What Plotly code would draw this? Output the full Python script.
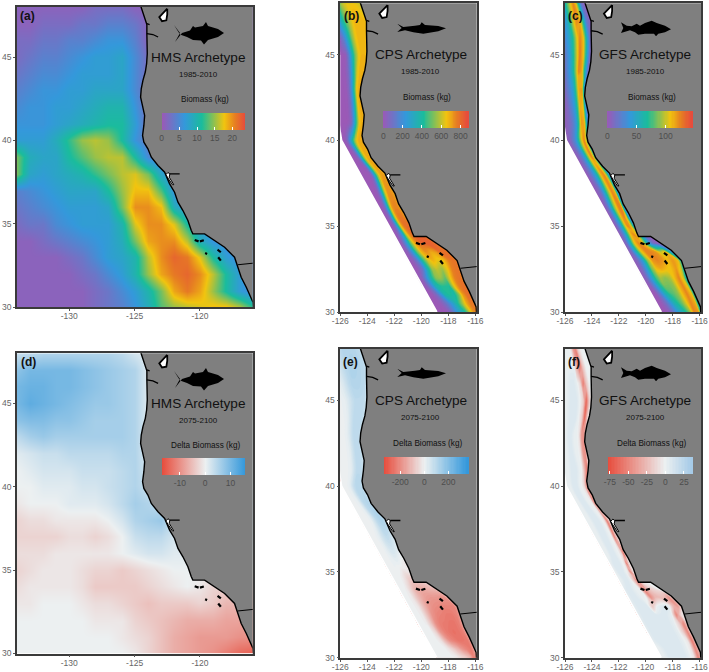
import plotly.graph_objects as go
import numpy as np

W, H = 709, 672
# ---------------- gridded biomass, HMS panels (lon -134..-116, lat 30..48)
HMS_LON = list(range(-134, -115))
HMS_LAT = list(range(30, 49))
HMS_BASE = [
 [1,1,1,1,1,1,2,3,4,6,9,13,15,16,17,18,18,16,12],
 [1,1,1,1,1,1,2,3,5,7,10,14,19,21,19,15,11,7,5],
 [1,1,1,1,1,2,3,5,7,10,15,19,21,22,20,16,11,7,5],
 [1,1,1,1,2,3,5,7,8,10,16,20,22,21,17,11,7,5,5],
 [1,1,2,3,4,5,6,7,9,14,19,20,20,16,9,6,5,5,5],
 [2,3,3,5,6,7,7,7,10,17,20,20,17,11,7,6,5,5,5],
 [3,4,5,6,7,7,7,8,14,20,20,18,9,6,5,5,5,5,5],
 [4,5,6,7,8,8,8,11,15,18,18,13,6,5,5,5,5,5,5],
 [14,8,7,8,9,10,12,14,16,17,14,8,5,4,4,4,4,4,4],
 [14,9,8,8,11,13,15,16,16,11,5,4,4,4,4,4,4,4,4],
 [7,7,7,9,12,15,16,15,11,6,3,3,3,3,3,3,3,3,3],
 [6,6,6,7,8,9,10,11,11,7,2,2,2,2,2,2,2,2,2],
 [5,6,6,7,7,8,9,10,10,6,2,2,2,2,2,2,2,2,2],
 [4,5,6,6,7,7,8,8,8,5,2,2,2,2,2,2,2,2,2],
 [3,4,5,5,6,7,7,7,8,5,2,2,2,2,2,2,2,2,2],
 [2,3,4,4,5,6,7,7,8,5,2,2,2,2,2,2,2,2,2],
 [2,2,3,3,4,4,5,6,6,4,1,1,1,1,1,1,1,1,1],
 [1,1,2,2,2,3,3,4,4,3,1,1,1,1,1,1,1,1,1],
 [1,1,1,1,1,1,2,2,2,1,1,1,1,1,1,1,1,1,1],
]
HMS_DELTA = [
 [0,0,0,0,0,0,0,0,0,-1,-3,-5,-7,-8,-9,-10,-12,-14,-15],
 [0,0,0,0,0,0,0,0,-1,-2,-3,-5,-7,-8,-9,-9,-9,-10,-10],
 [0,0,0,0,0,0,-1,-1,-1,-3,-4,-5,-6,-7,-7,-7,-8,-8,-8],
 [-1,-1,0,0,0,-1,-2,-2,-3,-4,-5,-4,-4,-4,-3,-4,-6,-6,-6],
 [-2,-1,-1,-1,-1,-2,-4,-4,-4,-4,-3,-2,-1,0,-1,-3,-3,-3,-3],
 [-3,-2,-1,-1,-1,-2,-3,-3,-4,-3,-2,-1,0,0,0,0,0,0,0],
 [-2,-2,-2,-1,-1,-1,-1,-1,0,1,2,2,1,1,1,1,1,1,1],
 [-3,-3,-3,-3,-2,-2,-3,-2,0,3,4,4,2,2,2,2,2,2,2],
 [-3,-2,-2,-1,-1,-1,-1,0,2,5,6,7,3,3,3,3,3,3,3],
 [-1,0,0,0,1,1,1,2,4,6,5,3,3,3,3,3,3,3,3],
 [0,0,1,1,1,2,2,3,4,5,3,1,1,1,1,1,1,1,1],
 [0,1,2,2,2,3,3,3,4,5,2,1,1,1,1,1,1,1,1],
 [1,2,3,3,4,4,4,4,5,5,1,1,1,1,1,1,1,1,1],
 [4,6,7,6,6,6,6,6,6,5,1,1,1,1,1,1,1,1,1],
 [8,9,9,8,8,7,6,6,6,5,1,1,1,1,1,1,1,1,1],
 [10,12,11,10,9,8,7,7,6,5,1,1,1,1,1,1,1,1,1],
 [10,11,11,10,10,9,8,7,6,5,1,1,1,1,1,1,1,1,1],
 [8,10,10,10,10,9,8,7,6,5,1,1,1,1,1,1,1,1,1],
 [3,4,5,5,5,5,5,5,4,2,1,1,1,1,1,1,1,1,1],
]
# ---------------- shelf-band grid, CPS and GFS panels: one row per latitude,
# 11 stations from the offshore limit to just behind the shore
BAND_LAT = [48,47,46,45,44,43,42,41,40,39,38,37,36,35.5,35,34.5,34,33.5,33,32.5,32,31.5,31,30.5,30]
BAND_OUTER = [-126.3,-126.3,-126.3,-126.3,-126.3,-126.3,-126.2,-126.1,-125.9,-125.2,-124.5,-123.8,-123.1,-122.75,-122.4,-122.05,-121.7,-121.35,-121.0,-120.65,-120.3,-119.95,-119.55,-119.2,-118.85]
BAND_INNER = [-124.5,-124.0,-123.95,-123.95,-124.1,-124.4,-124.3,-124.2,-124.25,-123.65,-122.5,-121.95,-121.45,-121.1,-120.6,-119.7,-118.7,-117.9,-117.25,-117.0,-116.85,-116.55,-116.25,-116.0,-115.8]
CPS_BASE = [
 [450,500,580,620,640,650,650,650,640,620,600],
 [200,260,400,500,580,640,680,680,680,670,650],
 [0,40,120,240,400,540,640,680,680,680,660],
 [0,0,0,20,150,350,520,640,680,680,650],
 [0,0,0,10,60,200,420,620,690,690,660],
 [0,0,0,0,10,60,200,430,650,700,680],
 [0,0,0,0,10,60,200,430,650,700,680],
 [0,0,0,0,20,80,250,480,660,690,670],
 [0,0,20,100,250,400,560,660,700,700,680],
 [0,0,0,30,120,300,500,650,700,700,670],
 [0,0,0,0,40,250,500,680,720,700,660],
 [0,0,0,30,150,400,620,730,740,720,680],
 [0,0,20,100,300,560,720,760,760,740,700],
 [0,0,30,120,350,600,740,780,780,760,720],
 [0,0,30,150,400,650,760,800,800,780,740],
 [0,10,100,300,600,740,800,830,820,790,760],
 [0,30,200,480,680,780,820,830,830,800,770],
 [0,30,220,500,680,740,700,720,800,800,760],
 [0,20,150,430,620,680,640,660,760,790,760],
 [0,10,100,350,560,600,560,640,760,790,760],
 [0,30,200,400,540,560,500,640,760,790,760],
 [0,20,150,350,420,430,420,640,760,800,770],
 [0,0,60,200,380,420,380,520,720,800,780],
 [0,0,20,80,180,300,420,560,700,780,780],
 [0,0,0,30,120,250,330,430,600,740,770],
]
GFS_BASE = [
 [30,40,70,90,110,125,110,70,25,10,5],
 [20,35,50,75,105,125,115,70,25,10,5],
 [10,25,40,55,75,105,125,110,60,18,5],
 [5,15,30,45,70,100,128,110,60,15,5],
 [5,10,25,40,60,90,125,115,60,15,5],
 [5,5,15,25,35,50,80,115,120,50,10],
 [5,5,10,20,30,45,75,115,110,40,10],
 [5,5,10,15,25,40,75,120,115,50,10],
 [5,5,10,20,30,50,80,105,125,100,30],
 [0,5,10,20,35,55,85,110,125,90,20],
 [0,5,15,30,50,80,115,125,85,30,5],
 [0,5,10,25,50,80,105,125,115,50,10],
 [0,5,15,35,60,90,110,125,125,60,10],
 [0,5,15,35,60,90,115,125,105,50,10],
 [0,5,20,40,70,105,125,115,70,25,5],
 [0,10,30,70,110,125,105,60,20,5,5],
 [0,15,60,110,125,110,60,25,10,5,5],
 [0,15,60,105,125,125,120,100,110,60,10],
 [0,10,40,90,120,125,120,110,120,110,30],
 [0,10,40,85,110,115,110,110,120,100,20],
 [0,10,40,75,95,90,95,110,125,100,25],
 [0,5,30,65,85,85,90,110,125,105,25],
 [0,0,20,50,70,80,90,110,125,110,30],
 [0,0,10,30,55,70,85,105,125,115,30],
 [0,0,5,20,40,55,70,90,125,120,30],
]
CPS_DELTA = [
 [60,80,100,110,110,110,110,110,100,90,60],
 [20,50,80,100,110,120,120,110,100,90,60],
 [0,15,30,60,90,110,110,110,100,90,60],
 [0,0,5,15,40,70,90,90,90,80,50],
 [0,0,0,5,20,60,90,90,90,80,50],
 [0,0,0,0,10,30,70,90,90,80,60],
 [0,0,0,0,5,20,60,90,90,80,60],
 [0,0,0,0,5,20,60,90,90,80,60],
 [0,0,0,5,20,60,90,100,100,90,60],
 [0,0,0,5,15,50,90,100,110,100,60],
 [0,0,0,0,10,50,90,110,120,100,70],
 [0,0,0,5,20,50,70,80,70,50,30],
 [0,0,0,0,10,20,30,30,20,10,0],
 [0,0,0,0,5,5,10,5,-10,-20,-20],
 [0,0,0,0,0,-10,-30,-30,-20,-20,-10],
 [0,0,0,-10,-40,-80,-90,-90,-80,-60,-40],
 [0,0,-10,-60,-120,-140,-140,-130,-120,-110,-60],
 [0,0,-20,-90,-140,-170,-180,-180,-190,-190,-100],
 [0,0,-20,-100,-170,-200,-210,-220,-220,-220,-120],
 [0,0,-15,-100,-190,-220,-230,-240,-240,-220,-130],
 [0,0,-10,-90,-200,-235,-240,-250,-250,-230,-130],
 [0,0,0,-60,-180,-230,-250,-260,-250,-230,-130],
 [0,0,0,-30,-120,-200,-230,-250,-250,-240,-140],
 [0,0,0,0,-30,-70,-120,-180,-220,-240,-150],
 [0,0,0,0,0,-10,-40,-60,-100,-220,-160],
]
GFS_DELTA = [
 [3,3,3,3,-5,-40,-50,-15,-2,0,0],
 [3,3,3,3,3,-30,-60,-20,0,0,0],
 [3,3,3,8,8,3,-10,-55,-20,0,0],
 [3,3,3,8,8,8,0,-15,-65,-15,0],
 [3,3,3,8,8,8,0,-15,-65,-15,0],
 [3,3,3,8,8,3,3,-5,-40,-45,-5],
 [3,3,3,8,8,3,3,-5,-40,-45,-5],
 [3,3,3,8,8,8,3,0,-25,-55,-10],
 [3,3,3,8,8,8,3,0,-10,-40,-40],
 [3,3,3,8,8,8,3,3,-5,-45,-30],
 [3,3,3,8,8,8,3,-5,-55,-15,0],
 [3,3,3,8,8,8,3,0,-50,-20,0],
 [3,3,3,8,8,8,3,0,-10,-60,-5],
 [3,3,8,8,8,8,3,-5,-55,-15,0],
 [3,3,8,8,8,3,-5,-55,-15,0,0],
 [3,3,8,8,3,-20,-55,-5,0,0,0],
 [3,8,8,3,3,-50,-25,-15,-10,0,0],
 [3,8,8,3,0,-45,-25,-25,-25,-45,-5],
 [3,8,8,8,-20,3,8,8,-25,-40,-3],
 [3,8,8,8,8,8,8,3,-50,-10,0],
 [3,8,8,8,8,8,8,3,-15,-50,-3],
 [3,8,8,8,8,8,8,3,-15,-50,-3],
 [3,8,8,8,8,8,8,3,-5,-55,-15],
 [3,3,8,8,8,8,8,3,-5,-50,-20],
 [3,3,8,8,8,8,8,3,-5,-50,-25],
]
# ---------------- geography
COAST_LON = [-124.59,-124.36,-124.18,-124.06,-124.06,-124.03,-124.03,-124.08,-124.18,-124.36,-124.49,-124.54,-124.39,-124.23,-124.29,-124.39,-124.29,-123.98,-123.72,-123.21,-122.70,-122.32,-121.94,-121.68,-121.30,-120.92,-120.66,-120.54,-119.64,-118.88,-118.11,-117.35,-117.14,-116.84,-116.45,-116.2,-115.94,-115.9]
COAST_LAT = [48.2,47.6,47.2,46.95,46.4,45.8,45.2,44.6,44.1,43.6,43.1,42.6,42.0,41.5,40.9,40.3,39.9,39.5,39.0,38.5,38.1,37.4,36.9,36.3,35.8,35.2,34.6,34.4,34.4,34.0,33.6,33.0,32.5,31.8,31.2,30.7,30.3,29.8]
BORDER_LON = [-117.1,-115.5]
BORDER_LAT = [32.55,32.68]
PUGET_LON = [-122.5,-123.11,-122.9,-122.57,-122.5,-122.5]
PUGET_LAT = [47.9,47.4,47.15,47.2,47.55,47.9]
SFBAY_LON = [-122.6,-122.45,-122.3,-122.35,-122.0,-122.1,-122.45,-122.6]
SFBAY_LAT = [37.95,38.08,38.0,37.8,37.35,37.35,37.75,37.95]
INLET_LON = [-124.06,-123.6,-123.2,None,-124.06,-123.85,None,-122.3,-121.55]
INLET_LAT = [46.4,46.35,46.2,None,47.0,46.95,None,38.0,38.0]
ISLAND_LON = [-120.4,-120.1,None,-120.0,-119.7,None,-119.6,-119.45,None,-118.65,-118.4,None,-118.6,-118.4]
ISLAND_LAT = [34.03,33.95,None,33.95,34.02,None,33.25,33.2,None,33.45,33.3,None,33.0,32.8]
# ---------------- fish outlines in pixels of the sheet
TUNA = [(174,25),(180,33),(175,42),(182,33),(190,30.5),(193,26),(195,27.5),(203,26),(206,22),(208,26),(218,29),(224,33),(218,37),(208,40),(204,44.5),(201,40.5),(193,40),(187,37),(180,34.5)]
SARDINE = [(397.3,23.7),(403.3,27),(415,25.7),(420,25),(421.7,22.3),(425,25),(438.3,26),(446,28.3),(438.3,31.3),(423.3,33.7),(413.3,32.3),(405,30.3),(397.3,32),(401.7,28)]
ROCKFISH = [(621,22.3),(626.7,25.7),(631.7,26.3),(636.7,23.7),(640,25.7),(645,23),(651.7,20.7),(656.7,23),(665,25.7),(671,29.3),(665,32.3),(658.3,33.7),(656,36.3),(654,33.7),(645,33.7),(638.3,34.7),(635,32.3),(630,30.3),(621,33),(623.3,28)]
FISH_SHIFT_Y = {"tuna": 346, "sardine": 345, "rockfish": 345}

RAINBOW = [[0,"#9B59B6"],[0.27,"#3498DB"],[0.48,"#1ABC9C"],[0.75,"#F1C40F"],[0.88,"#E67E22"],[1,"#E74C3C"]]
def diverging(lo, hi, right="#3498DB"):
    return [[0,"#E74C3C"],[-lo/(hi-lo),"#ECF0F1"],[1,right]]

PANELS = [
 dict(k="a",box=(17,252.7,7,307.3),xr=[-134,-115.96],xt=[-130,-125,-120],title="HMS Archetype",tc=(198.3,57.3),period="1985-2010",pc=(198.3,74),cbt="Biomass (kg)",cc=(205,99),lab=(27.7,15.7),
      cb=(161.7,245,112.7,129.3),rng=(0,23.5),ticks=[0,5,10,15,20],scale=RAINBOW,hz=HMS_BASE),
 dict(k="b",box=(340.3,476.7,3.3,312),xr=[-126,-115.9],xt=list(range(-126,-115,2)),title="CPS Archetype",tc=(420.7,54.3),period="1985-2010",pc=(420.7,71.3),cbt="Biomass (kg)",cc=(427.3,97.3),lab=(351,16),
      cb=(383.3,467,111.3,128),rng=(0,870),ticks=[0,200,400,600,800],scale=RAINBOW,z=CPS_BASE,step=10),
 dict(k="c",box=(565,701,3.3,312),xr=[-126,-115.9],xt=list(range(-126,-115,2)),title="GFS Archetype",tc=(645,54.3),period="1985-2010",pc=(645,71.3),cbt="Biomass (kg)",cc=(651.7,97.3),lab=(575,15.7),
      cb=(607.3,691,111.3,128),rng=(0,144),ticks=[0,50,100],scale=RAINBOW,z=GFS_BASE,step=2),
 dict(k="d",box=(17,252.7,353.3,653.5),xr=[-134,-115.96],xt=[-130,-125,-120],title="HMS Archetype",tc=(198.3,403.7),period="2075-2100",pc=(198.3,420.3),cbt="Delta Biomass (kg)",cc=(205,445),lab=(28,361.7),
      cb=(161.7,245,458.3,475),rng=(-17.2,15.6),ticks=[-10,0,10],scale=diverging(-17.2,15.6),hz=HMS_DELTA),
 dict(k="e",box=(340.3,476.7,349,657.7),xr=[-126,-115.9],xt=list(range(-126,-115,2)),title="CPS Archetype",tc=(420.7,400.3),period="2075-2100",pc=(420.7,417.7),cbt="Delta Biomass (kg)",cc=(427.3,443.3),lab=(350.3,361.7),
      cb=(383.7,467,457.3,474),rng=(-337,353),ticks=[-200,0,200],scale=diverging(-337,353),z=CPS_DELTA,step=10),
 dict(k="f",box=(565,701,349,657.7),xr=[-126,-115.9],xt=list(range(-126,-115,2)),title="GFS Archetype",tc=(645,400.3),period="2075-2100",pc=(645,417.7),cbt="Delta Biomass (kg)",cc=(651.7,443.3),lab=(573.7,361.7),
      cb=(608.3,691,457.3,474),rng=(-77,35),ticks=[-75,-50,-25,0,25],scale=diverging(-77,35,"#A6CBE8"),z=GFS_DELTA,step=2),
]
px = lambda x: x / W
py = lambda y: 1 - y / H
FONT = "Liberation Sans, Arial, sans-serif"
TXT = "#4D4D4D"
band_x = [np.linspace(o, i, 11).round(3).tolist() for o, i in zip(BAND_OUTER, BAND_INNER)]
band_y = [[lat] * 11 for lat in BAND_LAT]

fig = go.Figure()
anns, shapes, layout = [], [], {}

def note(text, c, size, color="#111111", bold=False):
    anns.append(dict(text=f"<b>{text}</b>" if bold else text, x=px(c[0]), y=py(c[1]), xref="paper", yref="paper",
                     xanchor="center", yanchor="middle", showarrow=False, font=dict(family=FONT, size=size, color=color)))

def fish_path(pts, dy=0):
    return "M" + " L".join(f"{px(x):.5f} {py(y+dy):.5f}" for x, y in pts) + " Z"

for n, p in enumerate(PANELS):
    sfx = "" if n == 0 else str(n + 1)
    xa, ya = "x" + sfx, "y" + sfx
    l, r, t, b = p["box"]
    cl, cr, ct, cb_ = p["cb"]
    colorbar = dict(orientation="h", x=px(cl), xanchor="left", xref="paper", y=py(ct), yanchor="top", yref="paper",
                    len=cr - cl, lenmode="pixels", thickness=cb_ - ct, thicknessmode="pixels", xpad=0, ypad=0,
                    outlinewidth=0, borderwidth=0, ticks="inside", ticklen=3, tickwidth=1, tickcolor="white",
                    tickmode="array", tickvals=p["ticks"], ticktext=[str(v) for v in p["ticks"]],
                    tickfont=dict(family=FONT, size=8.5, color=TXT))
    if "hz" in p:
        fig.add_trace(go.Heatmap(x=HMS_LON, y=HMS_LAT, z=p["hz"], zmin=p["rng"][0], zmax=p["rng"][1], zsmooth="best",
                                 colorscale=p["scale"], colorbar=colorbar, xaxis=xa, yaxis=ya, hoverinfo="skip"))
    else:
        cid = "carpet" + p["k"]
        hidden = dict(showgrid=False, showline=False, showticklabels="none", startline=False, endline=False,
                      minorgridcount=0, smoothing=0)
        fig.add_trace(go.Carpet(carpet=cid, a=list(range(11)), b=list(range(len(BAND_LAT))), x=band_x, y=band_y,
                                aaxis=hidden, baxis=hidden, xaxis=xa, yaxis=ya))
        fig.add_trace(go.Contourcarpet(carpet=cid, a=list(range(11)), b=list(range(len(BAND_LAT))), z=p["z"],
                                       autocontour=False, zmin=p["rng"][0], zmax=p["rng"][1], colorscale=p["scale"],
                                       contours=dict(start=p["rng"][0], end=p["rng"][1], size=p["step"], coloring="fill", showlines=False),
                                       line=dict(width=0), colorbar=colorbar, xaxis=xa, yaxis=ya))
    lon = COAST_LON + [-115, -115, COAST_LON[0]]
    lat = COAST_LAT + [29.8, 48.2, COAST_LAT[0]]
    common = dict(xaxis=xa, yaxis=ya, mode="lines", hoverinfo="skip", showlegend=False)
    if "z" in p:
        fig.add_trace(go.Scatter(x=BAND_OUTER, y=BAND_LAT, line=dict(color="#FFFFFF", width=1.6), **common))
    fig.add_trace(go.Scatter(x=lon, y=lat, fill="toself", fillcolor="#7F7F7F", line=dict(color="#000000", width=1.4), **common))
    fig.add_trace(go.Scatter(x=BORDER_LON, y=BORDER_LAT, line=dict(color="#000000", width=1), **common))
    fig.add_trace(go.Scatter(x=PUGET_LON, y=PUGET_LAT, fill="toself", fillcolor="#FFFFFF", line=dict(color="#000000", width=1.8), **common))
    fig.add_trace(go.Scatter(x=SFBAY_LON, y=SFBAY_LAT, fill="toself", fillcolor="#FFFFFF", line=dict(color="#000000", width=1), **common))
    fig.add_trace(go.Scatter(x=INLET_LON, y=INLET_LAT, line=dict(color="#000000", width=1.3), **common))
    fig.add_trace(go.Scatter(x=ISLAND_LON, y=ISLAND_LAT, line=dict(color="#000000", width=2.2), **common))
    axis = dict(showgrid=False, zeroline=False, showline=True, mirror=True, linecolor="#3A3A3A", linewidth=1.6,
                ticks="outside", ticklen=2, tickcolor="#555555", tickwidth=1,
                tickfont=dict(family=FONT, size=8.5, color="#666666"), tickmode="array")
    layout["xaxis" + sfx] = dict(axis, domain=[px(l), px(r)], range=p["xr"], tickvals=p["xt"], ticklabelstandoff=-2,
                                 ticktext=[str(v) for v in p["xt"]], anchor=ya)
    layout["yaxis" + sfx] = dict(axis, domain=[py(b), py(t)], range=[30, 48], tickvals=[30, 35, 40, 45],
                                 ticktext=["30", "35", "40", "45"], anchor=xa)
    note(p["title"], p["tc"], 13.6)
    note(p["period"], p["pc"], 8)
    note(p["cbt"], p["cc"], 8.2)
    note(f"({p['k']})", p["lab"], 12, bold=True)

for pts, key in ((TUNA, "tuna"), (SARDINE, "sardine"), (ROCKFISH, "rockfish")):
    for dy in (0, FISH_SHIFT_Y[key]):
        shapes.append(dict(type="path", path=fish_path(pts, dy), xref="paper", yref="paper",
                           fillcolor="#000000", line=dict(width=0), layer="above"))

fig.update_layout(width=W, height=H, margin=dict(l=0, r=0, t=0, b=0, autoexpand=False), paper_bgcolor="white", plot_bgcolor="white",
                  showlegend=False, hovermode=False, annotations=anns, shapes=shapes, font=dict(family=FONT), **layout)
fig.write_html("out.html", config={"displayModeBar": False}, post_script="document.body.style.margin='0';")
